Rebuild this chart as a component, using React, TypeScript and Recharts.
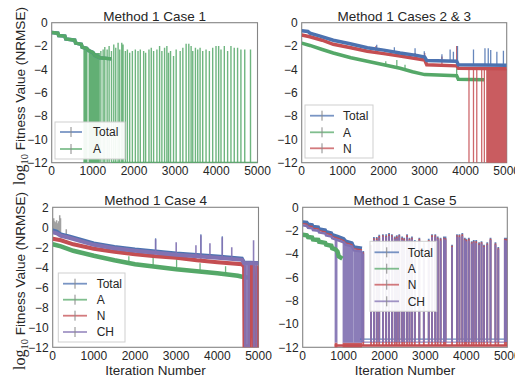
import React from "react";
import { LineChart, Line, XAxis, YAxis, ReferenceArea } from "recharts";

type Pt = [number, number];
type Seg = [number, number, number];
type Band = [number, number, number, number];

// ---------- shared axis values ----------
const xTicks = [0, 1000, 2000, 3000, 4000, 5000];
const yTicksStd = [0, -2, -4, -6, -8, -10, -12];
const yTicksCase4 = [2, 0, -2, -4, -6, -8, -10, -12];

// ---------- Method 1 Case 1 (Total == A) ----------
const case1ABase: Pt[] = [
  [0, -0.85], [150, -0.9], [170, -1.1], [320, -1.15], [340, -1.4], [560, -1.5], [580, -1.75],
  [720, -1.85], [740, -2.1], [850, -2.2], [900, -2.4], [1000, -2.55], [1050, -2.8], [1170, -3.0], [1450, -3.1],
];
const case1AFloor: Pt[] = [[1450, -12], [5000, -12]];
const case1ADense: Band[] = [[770, 870, -12, -2.2], [895, 1170, -12, -2.6]];
const case1ASpikes: Seg[] = [
  [1194, -12, -2.43], [1250, -12, -2.29], [1290, -12, -2.09], [1347, -12, -2.29], [1395, -12, -2.0],
  [1452, -12, -2.43], [1508, -12, -1.86], [1556, -12, -2.14], [1613, -12, -1.71], [1653, -12, -2.29],
  [1702, -12, -1.71], [1734, -12, -1.86], [1790, -12, -2.43], [1839, -12, -2.29], [1895, -12, -2.57],
  [1960, -12, -2.43], [2032, -12, -2.29], [2097, -12, -2.43], [2153, -12, -2.29], [2234, -12, -2.43],
  [2282, -12, -2.57], [2363, -12, -2.29], [2419, -12, -2.14], [2476, -12, -2.43], [2556, -12, -2.29],
  [2621, -12, -2.0], [2677, -12, -2.43], [2742, -12, -2.14], [2798, -12, -2.0], [2839, -12, -2.57],
  [2887, -12, -2.43], [2960, -12, -2.86], [3024, -12, -2.29], [3121, -12, -2.43], [3186, -12, -2.14],
  [3266, -12, -1.8], [3331, -12, -1.8], [3387, -12, -2.0], [3427, -12, -2.43], [3492, -12, -2.14],
  [3548, -12, -2.29], [3605, -12, -2.14], [3669, -12, -2.43], [3750, -12, -2.29], [3831, -12, -2.43],
  [3911, -12, -2.14], [3992, -12, -2.0], [4056, -12, -2.0], [4113, -12, -2.29], [4194, -12, -2.0],
  [4274, -12, -2.43], [4355, -12, -2.0], [4435, -12, -2.14], [4516, -12, -2.14], [4597, -12, -2.29],
  [4690, -12, -2.29], [4830, -12, -2.29],
];

// ---------- Method 1 Cases 2 & 3 ----------
const case23TotalBase: Pt[] = [
  [0, -0.7], [150, -0.75], [200, -0.9], [450, -1.15], [770, -1.5], [1180, -1.8], [1600, -2.15],
  [2000, -2.35], [2400, -2.6], [2800, -2.8], [3000, -2.95], [3050, -3.25], [3780, -3.3], [3820, -3.6], [5000, -3.65],
];
const case23NBase: Pt[] = [
  [0, -1.05], [200, -1.2], [500, -1.5], [770, -1.85], [1200, -2.15], [1600, -2.45], [2000, -2.65],
  [2400, -2.85], [3000, -3.2], [3050, -3.6], [3780, -3.7], [3820, -3.9], [5000, -3.95],
];
const case23ABase: Pt[] = [
  [0, -1.75], [200, -1.95], [500, -2.3], [770, -2.6], [1200, -3.0], [1600, -3.3], [2000, -3.6],
  [2400, -3.9], [2700, -4.2], [3000, -4.45], [3780, -4.55], [3820, -4.85], [4450, -4.9],
];
const case23TotalSpikes: Seg[] = [
  [1830, -2.3, -1.9], [2260, -2.5, -2.1], [2765, -2.8, -2.2], [2990, -2.95, -2.45], [3420, -3.3, -2.7],
  [3620, -3.3, -2.3], [3700, -3.3, -2.5], [3800, -3.3, -2.0], [4190, -3.65, -2.3], [4470, -3.65, -2.2],
  [4550, -3.65, -2.2], [4610, -3.65, -2.35], [4760, -3.65, -2.5], [4920, -3.65, -2.4],
];
const case23NSpikes: Seg[] = [
  [1810, -2.6, -2.0], [2765, -3.0, -2.6], [3000, -3.2, -2.6], [3420, -3.65, -2.9], [3780, -3.7, -2.0],
  [4080, -12, -3.95], [4190, -12, -3.95], [4270, -12, -3.95], [4390, -12, -3.95], [4455, -12, -3.95],
];
const case23NDense: Band[] = [[4500, 5000, -12, -3.95]];
const case23ASpikes: Seg[] = [[2050, -3.65, -3.3], [2320, -3.85, -3.2], [2520, -4.0, -3.6], [3780, -4.55, -3.9]];

// ---------- Method 1 Case 4 ----------
const case4TotalBase: Pt[] = [
  [0, -0.3], [100, -0.4], [200, -0.7], [400, -0.9], [700, -1.25], [1000, -1.6], [1500, -1.95], [2000, -2.2],
  [2500, -2.4], [3000, -2.6], [3500, -2.75], [4000, -2.9], [4600, -3.1], [4650, -3.5], [5000, -3.55],
];
const case4CHBase: Pt[] = [
  [0, -0.5], [100, -0.6], [200, -0.85], [400, -1.05], [700, -1.4], [1000, -1.75], [1500, -2.1], [2000, -2.35],
  [2500, -2.55], [3000, -2.75], [3500, -2.9], [4000, -3.05], [4600, -3.25], [4650, -3.6], [5000, -3.6],
];
const case4NBase: Pt[] = [
  [0, -1.15], [200, -1.3], [500, -1.7], [1000, -2.15], [1500, -2.45], [2000, -2.7], [2500, -2.9], [3000, -3.05],
  [3500, -3.3], [4000, -3.5], [4600, -3.7], [4650, -3.95], [4660, -11.9], [4780, -11.9], [4790, -3.95],
  [4870, -3.95], [4880, -11.9], [4960, -11.9], [4970, -4.0], [5000, -4.0],
];
const case4ABase: Pt[] = [
  [0, -1.7], [200, -1.9], [500, -2.35], [1000, -2.85], [1500, -3.3], [2000, -3.7], [2500, -3.95], [3000, -4.2],
  [3500, -4.4], [4000, -4.6], [4500, -4.85], [4650, -5.0], [5000, -5.05],
];
const case4CHSpikes: Seg[] = [
  [2500, -2.55, -1.2], [3000, -2.75, -1.5], [3480, -2.9, -1.8], [3600, -2.95, -0.8], [3820, -3.0, -1.6],
  [4120, -3.05, -1.0], [4350, -3.15, -2.0], [4665, -12, -3.6], [4685, -12, -3.6], [4705, -12, -3.6],
  [4730, -12, -3.6], [4755, -12, -3.6], [4775, -12, -3.6], [4880, -12, -1.3], [4905, -12, -3.6], [4950, -12, -3.6],
];
const case4TotalSpikes: Seg[] = [[2500, -2.4, -1.1], [3600, -2.8, -0.7], [4120, -2.95, -0.9]];
const case4ASpikes: Seg[] = [
  [1850, -3.6, -2.9], [2440, -3.95, -3.0], [3010, -4.2, -3.2], [3580, -4.45, -3.6], [4200, -4.7, -3.9], [4750, -5.0, -4.3],
];
const case4NSpikes: Seg[] = [[2440, -2.85, -2.3], [3600, -3.35, -2.6]];
const case4ErrorBars: Seg[] = [
  [5, -0.3, 0.7], [25, -0.3, 0.9], [45, -0.35, 0.6], [70, -0.4, 0.5], [95, -0.4, 0.7], [120, -0.45, 0.4],
  [145, -0.5, 0.6], [170, -0.5, 1.2], [190, -0.6, 0.9], [330, -0.9, -0.2],
];

// ---------- Method 1 Case 5 ----------
const case5TotalBase: Pt[] = [
  [0, -1.25], [100, -1.3], [130, -1.45], [230, -1.5], [250, -1.65], [380, -1.7], [400, -1.85], [550, -1.95],
  [570, -2.1], [700, -2.2], [720, -2.35], [850, -2.5], [1000, -2.7], [1050, -2.9], [1200, -3.05], [1250, -3.4], [1450, -3.5],
];
const case5NBase: Pt[] = [
  [0, -1.4], [100, -1.45], [130, -1.6], [230, -1.65], [250, -1.8], [380, -1.85], [400, -2.0], [550, -2.1],
  [570, -2.25], [700, -2.35], [720, -2.5], [850, -2.65], [1000, -2.85], [1050, -3.05], [1200, -3.2], [1250, -3.55], [1450, -3.65],
];
const case5CHBase: Pt[] = [
  [0, -1.55], [100, -1.6], [130, -1.75], [230, -1.8], [250, -1.95], [380, -2.0], [400, -2.15], [550, -2.25],
  [570, -2.4], [700, -2.5], [720, -2.65], [850, -2.8], [1000, -3.0], [1050, -3.2], [1200, -3.35], [1250, -3.7], [1450, -3.8],
];
const case5ABase: Pt[] = [
  [0, -2.35], [100, -2.4], [130, -2.55], [230, -2.6], [250, -2.75], [380, -2.8], [400, -2.95], [550, -3.05],
  [570, -3.2], [700, -3.3], [720, -3.5], [800, -3.6], [850, -3.8], [880, -4.2], [970, -4.4],
];
const case5Floors = { total: -11.3, ch: -11.55, n: -11.85 };
const case5TotalFloor: Pt[] = [[1400, case5Floors.total], [5000, case5Floors.total]];
const case5CHFloor: Pt[] = [[1440, case5Floors.ch], [5000, case5Floors.ch]];
const case5NFloor: Pt[] = [[780, case5Floors.n], [5000, case5Floors.n]];
const case5CHDense: Band[] = [[780, 850, -11.6, -2.55], [975, 1240, -11.6, -3.0], [1240, 1450, -11.6, -3.7]];
const case5NDense: Band[] = [[780, 850, -12, -11.6], [975, 1450, -12, -11.6]];
// [iteration, Total top, N top, CH top]
const case5Spikes: [number, number, number, number][] = [
  [1480, -3.75, -3.85, -3.95], [1670, -3.2, -3.3, -3.4], [1740, -2.55, -2.65, -2.75], [1810, -2.55, -2.65, -2.8],
  [1870, -2.35, -2.45, -2.6], [1960, -2.3, -2.4, -2.5], [2040, -2.3, -2.45, -2.55], [2110, -2.2, -2.3, -2.45],
  [2180, -2.3, -2.4, -2.5], [2250, -2.5, -2.6, -2.7], [2300, -2.4, -2.5, -2.65], [2360, -2.3, -2.4, -2.5],
  [2430, -2.5, -2.6, -2.75], [2480, -2.6, -2.7, -2.85], [2550, -2.3, -2.4, -2.55], [2610, -2.6, -2.7, -2.8],
  [2670, -2.5, -2.6, -2.7], [2740, -2.8, -2.9, -3.05], [2850, -2.6, -2.7, -2.85], [2960, -3.0, -3.1, -3.2],
  [3080, -2.7, -2.8, -2.9], [3160, -2.3, -2.4, -2.55], [3240, -2.3, -2.4, -2.5], [3300, -2.5, -2.6, -2.7],
  [3370, -2.6, -2.7, -2.85], [3450, -2.5, -2.6, -2.7], [3490, -2.5, -2.65, -2.75], [3650, -3.2, -3.3, -3.4],
  [3770, -2.3, -2.4, -2.5], [3830, -2.3, -2.4, -2.55], [3900, -2.2, -2.3, -2.45], [3960, -2.6, -2.7, -2.8],
  [4000, -2.7, -2.8, -2.9], [4060, -2.6, -2.7, -2.85], [4130, -2.9, -3.0, -3.1], [4180, -2.8, -2.9, -3.0],
  [4240, -2.8, -2.9, -3.05], [4310, -3.0, -3.1, -3.2], [4370, -2.9, -3.0, -3.1], [4430, -3.2, -3.3, -3.4],
  [4510, -3.0, -3.1, -3.2], [4590, -2.6, -2.7, -2.8], [4710, -3.0, -3.1, -3.2], [4780, -3.4, -3.5, -3.6],
  [4940, -2.6, -2.7, -2.8], [4980, -2.6, -2.7, -2.85],
];
const case5Drops: Seg[] = [[1452, -11.55, -3.8]];

// ---------- styling / layout ----------
const W = 515;
const H = 378;
const C = { total: "#4C72B0", a: "#55A868", n: "#C44E52", ch: "#8172B2", err: "#8a8a8a" };
const TXT = "#262626";
const SANS = "'Liberation Sans', Arial, sans-serif";
const SERIF = "'Liberation Serif', 'DejaVu Serif', serif";

type Box = { l: number; r: number; t: number; b: number };
const boxes: Record<string, Box> = {
  c1: { l: 51.7, r: 257.5, t: 22.7, b: 162.7 },
  c23: { l: 301.7, r: 506.7, t: 22.7, b: 162.7 },
  c4: { l: 52.7, r: 258.5, t: 207.3, b: 347.3 },
  c5: { l: 302.7, r: 507.3, t: 207.3, b: 347.3 },
};

const toXY = (pts: Pt[]) => pts.map(([x, y]) => ({ x, y }));
const segData = (segs: Seg[]) =>
  segs.flatMap(([x, a, b]) => [{ x, y: a }, { x, y: b }, { x, y: null as number | null }]);

const fmt = (v: number) => (v < 0 ? "\u2212" + Math.abs(v) : String(v));

const baseLine = (key: string, pts: Pt[], color: string, w: number, op = 1) => (
  <Line key={key} data={toXY(pts)} dataKey="y" stroke={color} strokeWidth={w} strokeOpacity={op}
    dot={false} activeDot={false} isAnimationActive={false} type="linear" />
);
const spikeLine = (key: string, segs: Seg[], color: string, w: number, op = 0.85) => (
  <Line key={key} data={segData(segs)} dataKey="y" stroke={color} strokeWidth={w} strokeOpacity={op}
    dot={false} activeDot={false} isAnimationActive={false} type="linear" connectNulls={false} />
);
const bands = (key: string, list: Band[], color: string, op = 0.92) =>
  list.map(([x1, x2, y1, y2], i) => (
    <ReferenceArea key={key + i} x1={x1} x2={x2} y1={y1} y2={y2} fill={color} fillOpacity={op}
      stroke="none" ifOverflow="visible" />
  ));

function Panel({ box, domain, ticks, children }: { box: Box; domain: [number, number]; ticks: number[]; children: React.ReactNode }) {
  const tick = { fontSize: 12, fill: TXT, fontFamily: SANS };
  return (
    <div style={{ position: "absolute", left: 0, top: 0 }}>
      <LineChart width={W} height={H}
        margin={{ left: box.l - 40, right: W - box.r, top: box.t, bottom: H - box.b - 20 }}>
        <XAxis dataKey="x" type="number" domain={[0, 5000]} ticks={xTicks} interval={0} height={20}
          tickLine={false} axisLine={false} tickSize={4} tickMargin={0} tick={tick} allowDataOverflow />
        <YAxis type="number" domain={domain} ticks={ticks} interval={0} width={40}
          tickLine={false} axisLine={false} tickSize={4} tickMargin={0} tick={tick}
          tickFormatter={fmt} allowDataOverflow />
        {children}
      </LineChart>
    </div>
  );
}

type LegendItem = { label: string; color: string };
function LegendBox({ x, y, w, h, rowY, lineX0, lineX1, textX, items }: {
  x: number; y: number; w: number; h: number; rowY: number[]; lineX0: number; lineX1: number; textX: number; items: LegendItem[];
}) {
  const mid = (lineX0 + lineX1) / 2;
  return (
    <g>
      <rect x={x} y={y} width={w} height={h} fill="#ffffff" fillOpacity={0.92} stroke="#cfcfcf" strokeWidth={1} />
      {items.map((it, i) => (
        <g key={it.label}>
          <line x1={lineX0} x2={lineX1} y1={rowY[i]} y2={rowY[i]} stroke={it.color} strokeWidth={1.8} strokeOpacity={0.75} />
          <line x1={mid} x2={mid} y1={rowY[i] - 5} y2={rowY[i] + 5} stroke={C.err} strokeWidth={1} />
          <text x={textX} y={rowY[i]} dy="0.36em" fontSize={12} fill={TXT} fontFamily={SANS}>{it.label}</text>
        </g>
      ))}
    </g>
  );
}

function YLabel({ cy }: { cy: number }) {
  return (
    <text transform={`translate(25,${cy}) rotate(-90)`} textAnchor="middle" fill={TXT} fontFamily={SANS} fontSize={13.6}>
      <tspan fontFamily={SERIF} fontSize={16}>log</tspan>
      <tspan fontFamily={SERIF} fontSize={10.5} dy={3}>10</tspan>
      <tspan dy={-3}> Fitness Value (NRMSE)</tspan>
    </text>
  );
}

export default function App() {
  const frames = Object.values(boxes);
  return (
    <div style={{ position: "absolute", left: 0, top: 0, width: W, height: H, background: "#fff", overflow: "hidden" }}>
      <svg width={W} height={H} style={{ position: "absolute", left: 0, top: 0 }}>
        {frames.map((b, i) => (
          <rect key={i} x={b.l} y={b.t} width={b.r - b.l} height={b.b - b.t} fill="none" stroke="#858585" strokeWidth={1.1} />
        ))}
      </svg>

      <Panel box={boxes.c1} domain={[-12, 0]} ticks={yTicksStd}>
        {bands("c1d", case1ADense, C.a)}
        {baseLine("c1t", case1ABase, C.total, 3.5)}
        {baseLine("c1a", case1ABase, C.a, 3.5)}
        {baseLine("c1f", case1AFloor, C.a, 2)}
        {spikeLine("c1s", [[1455, -12, -3.1], ...case1ASpikes], C.a, 1.4)}
      </Panel>

      <Panel box={boxes.c23} domain={[-12, 0]} ticks={yTicksStd}>
        {bands("c23d", case23NDense, C.n)}
        {baseLine("c23a", case23ABase, C.a, 3.5)}
        {spikeLine("c23as", case23ASpikes, C.a, 1.3)}
        {baseLine("c23n", case23NBase, C.n, 3.5)}
        {spikeLine("c23ns", case23NSpikes, C.n, 1.3)}
        {baseLine("c23t", case23TotalBase, C.total, 3.5)}
        {spikeLine("c23ts", case23TotalSpikes, C.total, 1.3)}
      </Panel>

      <Panel box={boxes.c4} domain={[-12, 2]} ticks={yTicksCase4}>
        {spikeLine("c4e", case4ErrorBars, C.err, 1.5, 0.8)}
        {baseLine("c4a", case4ABase, C.a, 4.5)}
        {spikeLine("c4as", case4ASpikes, C.a, 1.3)}
        {baseLine("c4n", case4NBase, C.n, 4)}
        {spikeLine("c4ns", case4NSpikes, C.n, 1.3)}
        {baseLine("c4t", case4TotalBase, C.total, 3.5)}
        {spikeLine("c4ts", case4TotalSpikes, C.total, 1.3)}
        {baseLine("c4c", case4CHBase, C.ch, 4)}
        {spikeLine("c4cs", case4CHSpikes, C.ch, 1.6, 0.9)}
      </Panel>

      <Panel box={boxes.c5} domain={[-12, 0]} ticks={yTicksStd}>
        {bands("c5nd", case5NDense, C.n)}
        {bands("c5cd", case5CHDense, C.ch)}
        {baseLine("c5a", case5ABase, C.a, 4.5)}
        {baseLine("c5t", case5TotalBase, C.total, 3.5)}
        {baseLine("c5n", case5NBase, C.n, 1.5)}
        {baseLine("c5c", case5CHBase, C.ch, 2.5)}
        {baseLine("c5tf", case5TotalFloor, C.total, 1.2, 0.85)}
        {baseLine("c5cf", case5CHFloor, C.ch, 1.2, 0.85)}
        {baseLine("c5nf", case5NFloor, C.n, 2.5)}
        {spikeLine("c5ts", case5Spikes.map(([x, t]) => [x, case5Floors.total, t] as Seg), C.total, 1.8, 0.9)}
        {spikeLine("c5ns", case5Spikes.map(([x, , n]) => [x, case5Floors.n, n] as Seg), C.n, 1.8, 0.9)}
        {spikeLine("c5cs", [...case5Drops, ...case5Spikes.map(([x, , , c]) => [x, case5Floors.ch, c] as Seg)], C.ch, 1.8, 0.95)}
      </Panel>

      <svg width={W} height={H} style={{ position: "absolute", left: 0, top: 0 }}>
        <g fontFamily={SANS} fill={TXT} fontSize={13.5} textAnchor="middle">
          <text x={154.6} y={21}>Method 1 Case 1</text>
          <text x={404.2} y={21}>Method 1 Cases 2 &amp; 3</text>
          <text x={155.6} y={205.3}>Method 1 Case 4</text>
          <text x={405} y={205.3}>Method 1 Case 5</text>
          <text x={155.6} y={374.8}>Iteration Number</text>
          <text x={405} y={374.8}>Iteration Number</text>
        </g>
        <YLabel cy={96} />
        <YLabel cy={281} />
        <LegendBox x={55} y={122} w={70} h={37} rowY={[132, 149]} lineX0={60} lineX1={82} textX={93}
          items={[{ label: "Total", color: C.total }, { label: "A", color: C.a }]} />
        <LegendBox x={305} y={105} w={68} h={53} rowY={[115.7, 132.3, 148.3]} lineX0={310} lineX1={334} textX={343}
          items={[{ label: "Total", color: C.total }, { label: "A", color: C.a }, { label: "N", color: C.n }]} />
        <LegendBox x={58.3} y={273} w={66.7} h={69} rowY={[283.7, 299.7, 315.7, 332]} lineX0={63} lineX1={87} textX={96.7}
          items={[{ label: "Total", color: C.total }, { label: "A", color: C.a }, { label: "N", color: C.n }, { label: "CH", color: C.ch }]} />
        <LegendBox x={370} y={241.3} w={66.7} h={70} rowY={[252.3, 268.7, 284.7, 301.3]} lineX0={374.5} lineX1={399} textX={407.7}
          items={[{ label: "Total", color: C.total }, { label: "A", color: C.a }, { label: "N", color: C.n }, { label: "CH", color: C.ch }]} />
      </svg>
    </div>
  );
}
